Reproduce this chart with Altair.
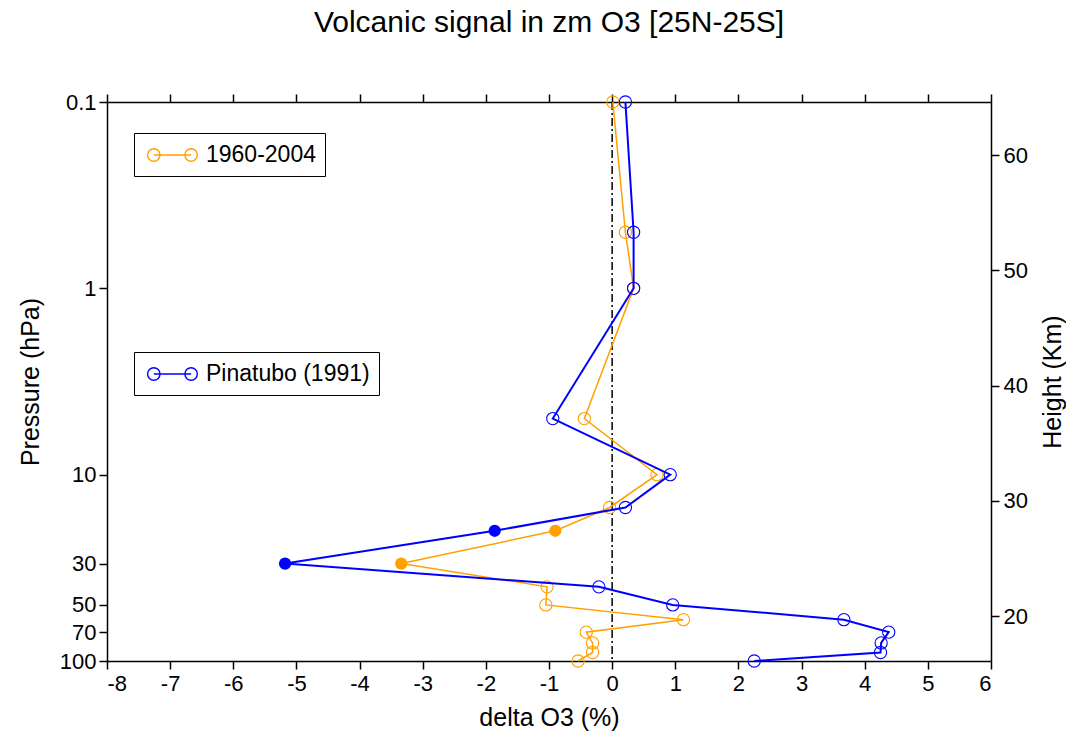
import altair as alt
import pandas as pd

# ---------------- data ----------------
pressure = [0.1, 0.5, 1, 5, 10, 15, 20, 30, 40, 50, 60, 70, 80, 90, 100]
clim_vals = [0.01, 0.21, 0.34, -0.44, 0.71, -0.04, -0.90, -3.34, -1.03, -1.05, 1.13, -0.41, -0.31, -0.31, -0.54]
pina_vals = [0.21, 0.34, 0.34, -0.94, 0.92, 0.21, -1.86, -5.18, -0.21, 0.96, 3.67, 4.38, 4.26, 4.25, 2.25]
significant = [False, False, False, False, False, False, True, True, False, False, False, False, False, False, False]

series_names = ["1960-2004", "Pinatubo (1991)"]
series_colors = ["#FFA000", "#0000FF"]

x_ticks = [-8, -7, -6, -5, -4, -3, -2, -1, 0, 1, 2, 3, 4, 5, 6]
p_ticks = [0.1, 1, 10, 30, 50, 70, 100]
h_ticks = [20, 30, 40, 50, 60]
h_domain = [16.1, 64.6]

# ---------------- styling ----------------
FONT = "Liberation Sans"
W, H = 884, 559
xscale = alt.Scale(domain=[-8, 6], nice=False, zero=False)
yscale = alt.Scale(type="log", domain=[0.1, 100], reverse=True, nice=False)

# legend glyph: line with an open circle at each end
SYMBOL = ("M-0.183,0 L2.925,0 "
          "M-0.7,0 A0.517,0.517 0 1,0 0.334,0 A0.517,0.517 0 1,0 -0.7,0 "
          "M2.408,0 A0.517,0.517 0 1,0 3.442,0 A0.517,0.517 0 1,0 2.408,0")


def series_layer(name, vals, color, sw, legend_y):
    d = pd.DataFrame({"pressure": pressure, "delta": vals,
                      "series": name, "sig": significant})
    base = alt.Chart(d)
    cscale = alt.Scale(domain=[name], range=[color])
    legend = alt.Legend(orient="none", legendX=27, legendY=legend_y, title=None,
                        symbolType=SYMBOL, symbolSize=576, symbolStrokeWidth=1.4,
                        symbolFillColor="transparent",
                        labelFontSize=23, labelFont=FONT, labelColor="black",
                        labelLimit=400,
                        labelOffset=37, strokeColor="black", fillColor="white",
                        padding=9, cornerRadius=0)
    xe = alt.X("delta:Q", scale=xscale, axis=None)
    ye = alt.Y("pressure:Q", scale=yscale, axis=None)
    line = base.mark_line(strokeWidth=sw).encode(
        x=xe, y=ye,
        color=alt.Color("series:N", scale=cscale, legend=legend),
        order=alt.Order("pressure:Q"))
    pts = base.transform_filter("!datum.sig").mark_point(
        filled=False, size=150, strokeWidth=1.1, opacity=1, shape="circle").encode(
        x=xe, y=ye,
        color=alt.Color("series:N", scale=cscale, legend=legend))
    fpts = base.transform_filter("datum.sig").mark_circle(
        size=150, opacity=1, color=color).encode(x=xe, y=ye)
    return alt.layer(line, pts, fpts)


orange = series_layer(series_names[0], clim_vals, series_colors[0], 1.5, 31)
blue = series_layer(series_names[1], pina_vals, series_colors[1], 2.0, 250)

zero_rule = alt.Chart(pd.DataFrame({"z": [0]})).mark_rule(
    color="black", strokeWidth=1.5, strokeDash=[8, 3, 2, 3]).encode(
    x=alt.X("z:Q", scale=xscale, axis=None))

axis_common = dict(domainColor="black", domainWidth=1.5, tickColor="black",
                   tickWidth=1.5, tickSize=8, labelFont=FONT, labelFontSize=22,
                   labelColor="black", titleFont=FONT, titleFontSize=25,
                   titleFontWeight="normal", titleColor="black", grid=False)

xdf = pd.DataFrame({"x": x_ticks})
bottom_axis = alt.Chart(xdf).mark_point(opacity=0).encode(
    x=alt.X("x:Q", scale=xscale,
            axis=alt.Axis(orient="bottom", values=x_ticks, title="delta O3 (%)",
                          labelExpr="'' + datum.value", labelPadding=4, titleY=56,
                          titleBaseline="middle", **axis_common)))
top_axis = alt.Chart(xdf).mark_point(opacity=0).encode(
    x=alt.X("x:Q", scale=xscale,
            axis=alt.Axis(orient="top", values=x_ticks, title=None, labels=False,
                          **axis_common)))
left_axis = alt.Chart(pd.DataFrame({"p": p_ticks})).mark_point(opacity=0).encode(
    y=alt.Y("p:Q", scale=yscale,
            axis=alt.Axis(orient="left", values=p_ticks, format="~g",
                          title="Pressure (hPa)", labelPadding=3,
                          titleAngle=270, titleX=-77, titleY=H / 2,
                          titleBaseline="middle", titleAlign="center",
                          **axis_common)))
right_axis = alt.Chart(pd.DataFrame({"h": h_ticks})).mark_point(opacity=0).encode(
    y=alt.Y("h:Q", scale=alt.Scale(domain=h_domain, nice=False, zero=False),
            axis=alt.Axis(orient="right", values=h_ticks, format="d",
                          title="Height (Km)", labelPadding=4,
                          titleAngle=270, titleX=61, titleY=H / 2,
                          titleBaseline="middle", titleAlign="center",
                          **axis_common)))

chart = alt.layer(
    zero_rule, orange, blue, bottom_axis, top_axis, left_axis, right_axis
).resolve_scale(
    x="independent", y="independent", color="independent"
).properties(
    width=W, height=H,
    title=alt.Title("Volcanic signal in zm O3 [25N-25S]", fontSize=30, font=FONT,
                    fontWeight="normal", color="black", anchor="middle",
                    frame="group", baseline="alphabetic", offset=29),
    autosize=alt.AutoSizeParams(type="none"),
    padding={"left": 107, "top": 102, "right": 75, "bottom": 70},
    background="white",
).configure_view(stroke=None)

chart.save("out.html", embed_options={"renderer": "svg", "actions": False})
